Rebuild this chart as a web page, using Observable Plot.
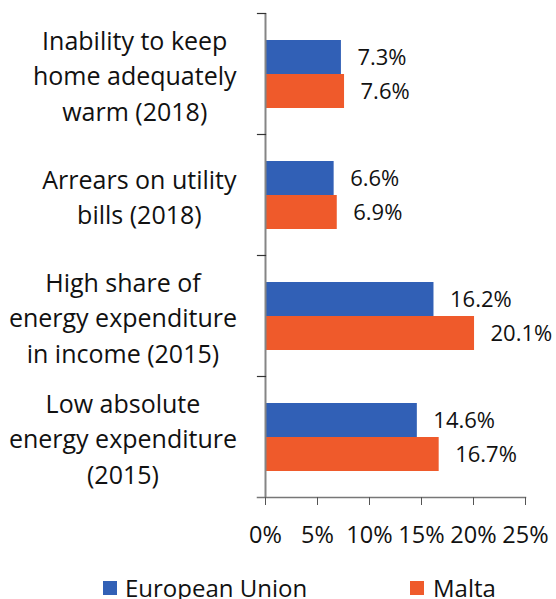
<!DOCTYPE html>
<html>
<head>
<meta charset="utf-8">
<script src="https://cdn.jsdelivr.net/npm/d3@7"></script>
<script src="https://cdn.jsdelivr.net/npm/@observablehq/plot@0.6"></script>
<style>
  html, body { margin: 0; padding: 0; background: #fff; }
  body { width: 556px; height: 599px; overflow: hidden; font-family: "Open Sans", sans-serif; color: #111; }
  #legend { position: relative; width: 556px; height: 37px; font-size: 24px; }
  #legend .sw { position: absolute; top: 19px; width: 14px; height: 14px; }
  #legend .lb { position: absolute; top: 12px; line-height: 28px; white-space: nowrap; }
</style>
</head>
<body>
<div id="chart"></div>
<div id="legend"></div>
<script>
const categories = [
  "Inability to keep\nhome adequately\nwarm (2018)",
  "Arrears on utility\nbills (2018)",
  "High share of\nenergy expenditure\nin income (2015)",
  "Low absolute\nenergy expenditure\n(2015)"
];
const series = ["European Union", "Malta"];
const euValues = [7.3, 6.6, 16.2, 14.6];
const maltaValues = [7.6, 6.9, 20.1, 16.7];
const xTicks = [0, 5, 10, 15, 20, 25];
const colors = ["#3160b6", "#ef5a2b"];

const data = categories.flatMap((c, i) => [
  {category: c, series: series[0], value: euValues[i]},
  {category: c, series: series[1], value: maltaValues[i]}
]);

const chart = Plot.plot({
  width: 556,
  height: 562,
  marginLeft: 265,
  marginRight: 31,
  marginTop: 12,
  marginBottom: 64,
  style: {fontFamily: "'Open Sans', sans-serif", fontSize: "24px", color: "#111", background: "#fff"},
  x: {domain: [0, 25], axis: null},
  y: {domain: series, paddingInner: 0, paddingOuter: 0.74, axis: null},
  fy: {domain: categories, padding: 0, axis: null},
  color: {domain: series, range: colors},
  marks: [
    Plot.barX(data, {x: "value", y: "series", fy: "category", fill: "series"}),
    Plot.text(data, {x: "value", y: "series", fy: "category", text: d => d.value.toFixed(1) + "%",
      textAnchor: "start", dx: 16, fontSize: 22, fill: "#111"}),
    Plot.ruleX([0], {stroke: "#858585", strokeWidth: 2}),
    Plot.frame({anchor: "top", insetLeft: -8, insetRight: 260, stroke: "#333", strokeWidth: 1.2}),
    Plot.frame({anchor: "bottom", facet: "super", insetLeft: -8, stroke: "#777", strokeWidth: 1.5}),
    Plot.axisX({ticks: xTicks, tickFormat: d => d + "%", tickSize: 8, tickPadding: 21,
      fontSize: 23.5, stroke: "#555", fill: "#111", label: null}),
    Plot.axisFy({anchor: "left", tickSize: 0, tickPadding: 135, textAnchor: "middle",
      lineHeight: 1.42, fontSize: 25, fill: "#111", label: null})
  ]
});

document.getElementById("chart").appendChild(chart);

// Excel-style category labels: each line centred, the block right-aligned next to the axis
const svgLeft = chart.getBoundingClientRect().left;
chart.querySelectorAll("g[aria-label='fy-axis tick label'] text").forEach(t => {
  const right = t.getBoundingClientRect().right - svgLeft;
  const shift = 237 - right;
  t.setAttribute("transform", (t.getAttribute("transform") || "") + ` translate(${shift},0)`);
});

const legend = document.getElementById("legend");
const legendPos = [[103, 125], [410, 433]];
series.forEach((s, i) => {
  const sw = document.createElement("div");
  sw.className = "sw";
  sw.style.left = legendPos[i][0] + "px";
  sw.style.background = colors[i];
  const lb = document.createElement("div");
  lb.className = "lb";
  lb.style.left = legendPos[i][1] + "px";
  lb.textContent = s;
  legend.appendChild(sw);
  legend.appendChild(lb);
});
</script>
</body>
</html>
